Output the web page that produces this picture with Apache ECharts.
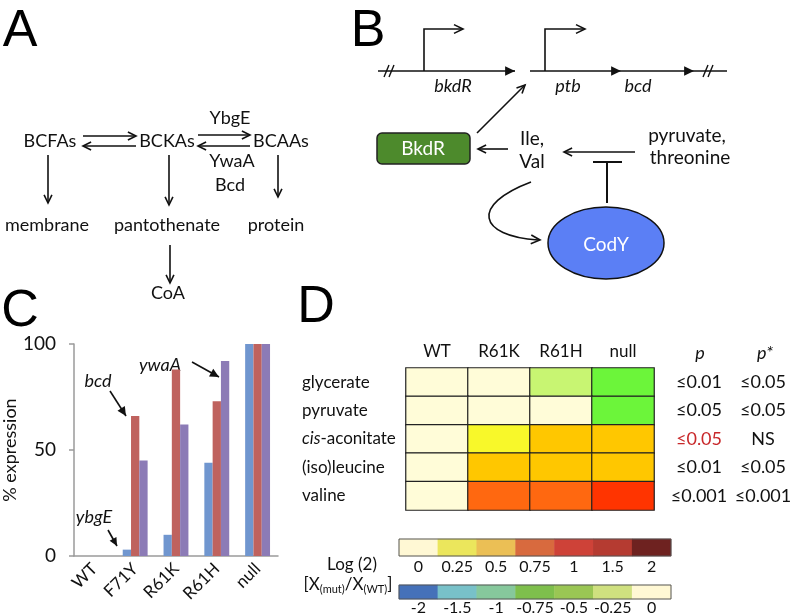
<!DOCTYPE html>
<html>
<head>
<meta charset="utf-8">
<script src="https://cdn.jsdelivr.net/npm/echarts@6/dist/echarts.min.js"></script>
<style>
  html, body { margin: 0; padding: 0; background: #fff; }
  #chart { width: 796px; height: 616px; }
</style>
</head>
<body>
<div id="chart"></div>
<script>
// panel C: % expression per strain
const strainsC = ['WT', 'F71Y', 'R61K', 'R61H', 'null'];
const ybgE = [0, 3, 10, 44, 100];
const bcd = [0, 66, 88, 73, 100];
const ywaA = [0, 45, 62, 92, 100];

// panel D: log2 ratio heatmap
const strainsD = ['WT', 'R61K', 'R61H', 'null'];
const metabolites = ['glycerate', 'pyruvate', 'cis-aconitate', '(iso)leucine', 'valine'];
const log2Ratio = [
  [0, 0, -0.25, -0.5],
  [0, 0, 0, -0.5],
  [0, 0.25, 0.5, 0.5],
  [0, 0.5, 0.5, 0.5],
  [0, 0.75, 0.75, 1]
];
const pValues = ['≤0.01', '≤0.05', '≤0.05', '≤0.01', '≤0.001'];
const pStarValues = ['≤0.05', '≤0.05', 'NS', '≤0.05', '≤0.001'];
const posScale = ['0', '0.25', '0.5', '0.75', '1', '1.5', '2'];
const negScale = ['-2', '-1.5', '-1', '-0.75', '-0.5', '-0.25', '0'];

const posColors = ['#FFF8D4', '#EBE65C', '#EBBF55', '#D86A3E', '#CE4238', '#B53B31', '#6E2220'];
const negColors = ['#4571B9', '#78C1C9', '#86C89C', '#7EBF4C', '#9AC654', '#CFE07F', '#FFF8D4'];

const FONT = 'Lato';
const K = '#111';

function line(x1, y1, x2, y2, w) {
  return { type: 'line', shape: { x1, y1, x2, y2 }, style: { stroke: K, lineWidth: w || 1.6 } };
}
function head(x, y, ang, size, filled) {
  const a1 = ang + Math.PI - 0.45, a2 = ang + Math.PI + 0.45;
  const pts = [[x + size * Math.cos(a1), y + size * Math.sin(a1)], [x, y],
               [x + size * Math.cos(a2), y + size * Math.sin(a2)]];
  if (filled) return { type: 'polygon', shape: { points: pts }, style: { fill: K } };
  return { type: 'polyline', shape: { points: pts }, style: { stroke: K, lineWidth: 1.6, fill: null } };
}
function arrow(x1, y1, x2, y2, filled, size) {
  const ang = Math.atan2(y2 - y1, x2 - x1);
  return [line(x1, y1, x2, y2), head(x2, y2, ang, size || 9, filled)];
}
function txt(x, y, s, size, extra) {
  return {
    type: 'text', x, y,
    style: Object.assign({ text: s, fontSize: size || 18, fontFamily: FONT, fill: K,
      align: 'center', verticalAlign: 'middle' }, extra || {})
  };
}
function letter(x, y, s) {
  return txt(x, y, s, 52, { fontFamily: 'Liberation Sans', fill: '#000' });
}

const shapes = [];
// panel letters
shapes.push(letter(20, 32, 'A'), letter(368, 32, 'B'), letter(20, 312, 'C'), letter(316, 308, 'D'));

// panel A
shapes.push(
  txt(50, 141, 'BCFAs'), txt(167, 141, 'BCKAs'), txt(281, 141, 'BCAAs'),
  txt(230, 118, 'YbgE'), txt(232, 161, 'YwaA'), txt(230, 185, 'Bcd'),
  txt(47, 225, 'membrane'), txt(167, 225, 'pantothenate'), txt(276, 225, 'protein'),
  txt(168, 293, 'CoA')
);
shapes.push(
  ...arrow(83, 136, 136, 136), ...arrow(136, 146, 83, 146),
  ...arrow(198, 135, 250, 135), ...arrow(250, 146, 198, 146),
  ...arrow(48, 155, 48, 203), ...arrow(169, 155, 169, 205),
  ...arrow(278, 155, 278, 197), ...arrow(170, 245, 170, 283)
);

// panel B
shapes.push(
  line(378, 71, 508, 71), head(515, 71, 0, 11, true), line(508, 71, 515, 71),
  line(384, 77, 389, 65, 1.4), line(389, 77, 394, 65, 1.4),
  { type: 'polyline', shape: { points: [[424, 71], [424, 29], [462, 29]] }, style: { stroke: K, lineWidth: 1.6, fill: null } },
  head(463, 29, 0, 10, false),
  line(530, 71, 727, 71), head(621, 71, 0, 11, true), head(694, 71, 0, 11, true),
  line(703, 77, 708, 65, 1.4), line(708, 77, 713, 65, 1.4),
  { type: 'polyline', shape: { points: [[545, 71], [545, 29], [584, 29]] }, style: { stroke: K, lineWidth: 1.6, fill: null } },
  head(585, 29, 0, 10, false),
  txt(453, 86, 'bkdR', 18, { fontStyle: 'italic' }),
  txt(568, 86, 'ptb', 18, { fontStyle: 'italic' }),
  txt(638, 86, 'bcd', 18, { fontStyle: 'italic' }),
  ...arrow(477, 133, 525, 85),
  { type: 'rect', shape: { x: 377, y: 133, width: 93, height: 31, r: 5 }, style: { fill: '#4D8A2C', stroke: '#222', lineWidth: 1.5 } },
  txt(423, 149, 'BkdR', 19, { fill: '#fff' }),
  ...arrow(508, 149, 478, 149),
  txt(532, 139, 'Ile,', 19), txt(532, 162, 'Val', 19),
  txt(687, 136, 'pyruvate,', 19), txt(690, 158, 'threonine', 19),
  ...arrow(635, 152, 564, 152),
  line(593, 162, 622, 162, 2), line(607, 162, 607, 203, 2),
  { type: 'ellipse', shape: { cx: 606, cy: 243, rx: 58, ry: 36 }, style: { fill: '#5B7FF5', stroke: '#111', lineWidth: 1.5 } },
  txt(606, 245, 'CodY', 19, { fill: '#fff' }),
  { type: 'bezierCurve', shape: { x1: 531, y1: 182, cpx1: 470, cpy1: 205, cpx2: 478, cpy2: 236, x2: 538, y2: 240 },
    style: { stroke: K, lineWidth: 1.6, fill: null } },
  head(540, 240, Math.atan2(4, 60), 10, false)
);

// panel C annotations
shapes.push(
  txt(98, 381, 'bcd', 18, { fontStyle: 'italic' }), ...arrow(110, 391, 126, 416, true, 10),
  txt(160, 365, 'ywaA', 18, { fontStyle: 'italic' }), ...arrow(192, 362, 219, 377, true, 10),
  txt(94, 517, 'ybgE', 18, { fontStyle: 'italic' }), ...arrow(108, 530, 117, 546, true, 9)
);

// panel D headers and legend caption
shapes.push(
  txt(700, 353, 'p', 18, { fontStyle: 'italic' }),
  txt(765, 353, 'p*', 18, { fontStyle: 'italic' }),
  txt(352, 565, 'Log (2)', 17),
  {
    type: 'text', x: 348, y: 585,
    style: {
      text: '[X{s|(mut)}/X{s|(WT)}]', fontSize: 17, fontFamily: FONT, fill: K,
      align: 'center', verticalAlign: 'middle',
      rich: { s: { fontSize: 11, fontFamily: FONT, fill: K, padding: [9, 0, 0, 0] } }
    }
  }
);

const chart = echarts.init(document.getElementById('chart'));

const heatData = [];
log2Ratio.forEach((row, r) => row.forEach((v, c) => heatData.push([c, r, v])));

const barColors = ['#7096CF', '#BF625E', '#8C7BB6'];

chart.setOption({
  animation: false,
  textStyle: { fontFamily: FONT },
  grid: [
    { left: 71, top: 344, width: 207, height: 212 },
    { left: 406, top: 368, width: 248, height: 142 },
    { left: 399, top: 539, width: 272, height: 17, show: true, z: 10, borderColor: '#555', borderWidth: 1 },
    { left: 399, top: 585, width: 272, height: 17, show: true, z: 10, borderColor: '#555', borderWidth: 1 }
  ],
  xAxis: [
    {
      type: 'category', gridIndex: 0, data: strainsC,
      axisLine: { lineStyle: { color: '#9a9a9a', width: 1.5 } },
      axisTick: { length: 6, lineStyle: { color: '#9a9a9a', width: 1.5 } },
      axisLabel: { rotate: 45, fontSize: 17, color: K, margin: 10, interval: 0 }
    },
    {
      type: 'category', gridIndex: 1, data: strainsD, position: 'top',
      axisLine: { show: false },
      axisTick: { length: 5, lineStyle: { color: '#d0d0d0' } },
      axisLabel: { fontSize: 17, color: K, margin: 8, interval: 0 }
    },
    {
      type: 'category', gridIndex: 2, data: posScale,
      axisLine: { show: false }, axisTick: { show: false },
      axisLabel: { fontSize: 16, color: K, margin: 3, interval: 0 }
    },
    {
      type: 'category', gridIndex: 3, data: negScale,
      axisLine: { show: false }, axisTick: { show: false },
      axisLabel: { fontSize: 16, color: K, margin: 1, interval: 0 }
    }
  ],
  yAxis: [
    {
      type: 'value', gridIndex: 0, min: 0, max: 100, interval: 50,
      splitLine: { show: false },
      axisLine: { show: true, lineStyle: { color: '#9a9a9a', width: 1.5 } },
      axisTick: { show: true, length: 5, lineStyle: { color: '#9a9a9a', width: 1.5 } },
      axisLabel: { fontSize: 19, color: K, margin: 18 },
      name: '% expression', nameLocation: 'middle', nameGap: 53,
      nameTextStyle: { fontSize: 18, color: K }
    },
    {
      type: 'category', gridIndex: 1, data: metabolites, inverse: true,
      axisLine: { show: false }, axisTick: { show: false },
      axisLabel: {
        fontSize: 17, color: K, align: 'left', margin: 104,
        formatter: v => v.startsWith('cis') ? '{i|cis}' + v.slice(3) : v,
        rich: { i: { fontStyle: 'italic', fontSize: 17, fontFamily: FONT, color: K } }
      }
    },
    {
      type: 'category', gridIndex: 1, data: metabolites, inverse: true, position: 'right',
      axisLine: { show: false }, axisTick: { show: false },
      axisLabel: {
        fontSize: 18, color: K, align: 'center', margin: 45,
        formatter: (v, i) => i === 2 ? '{r|' + pValues[i] + '}' : pValues[i],
        rich: { r: { color: '#C8282A', fontSize: 18, fontFamily: FONT } }
      }
    },
    {
      type: 'category', gridIndex: 1, data: metabolites, inverse: true, position: 'right',
      axisLine: { show: false }, axisTick: { show: false },
      axisLabel: {
        fontSize: 18, color: K, align: 'center', margin: 109,
        formatter: (v, i) => pStarValues[i]
      }
    },
    { type: 'category', gridIndex: 2, data: ['pos'], show: false },
    { type: 'category', gridIndex: 3, data: ['neg'], show: false }
  ],
  visualMap: {
    type: 'piecewise', show: false, seriesIndex: 3, dimension: 2,
    pieces: [
      { value: -0.5, color: '#6CF53A' },
      { value: -0.25, color: '#C8F572' },
      { value: 0, color: '#FFFCD8' },
      { value: 0.25, color: '#F8F82A' },
      { value: 0.5, color: '#FFC700' },
      { value: 0.75, color: '#FF6810' },
      { value: 1, color: '#FF3400' }
    ]
  },
  series: [
    { name: 'ybgE', type: 'bar', xAxisIndex: 0, yAxisIndex: 0, data: ybgE, barGap: '0%', barCategoryGap: '39%', itemStyle: { color: barColors[0] } },
    { name: 'bcd', type: 'bar', xAxisIndex: 0, yAxisIndex: 0, data: bcd, barGap: '0%', barCategoryGap: '39%', itemStyle: { color: barColors[1] } },
    { name: 'ywaA', type: 'bar', xAxisIndex: 0, yAxisIndex: 0, data: ywaA, barGap: '0%', barCategoryGap: '39%', itemStyle: { color: barColors[2] } },
    {
      name: 'log2', type: 'heatmap', xAxisIndex: 1, yAxisIndex: 1, data: heatData,
      itemStyle: { borderColor: '#222', borderWidth: 1.2 }
    },
    {
      name: 'posScale', type: 'heatmap', xAxisIndex: 2, yAxisIndex: 4,
      data: posScale.map((s, i) => ({ value: [i, 0, Number(s)], itemStyle: { color: posColors[i] } }))
    },
    {
      name: 'negScale', type: 'heatmap', xAxisIndex: 3, yAxisIndex: 5,
      data: negScale.map((s, i) => ({ value: [i, 0, Number(s)], itemStyle: { color: negColors[i] } }))
    }
  ],
  graphic: shapes
});
</script>
</body>
</html>
